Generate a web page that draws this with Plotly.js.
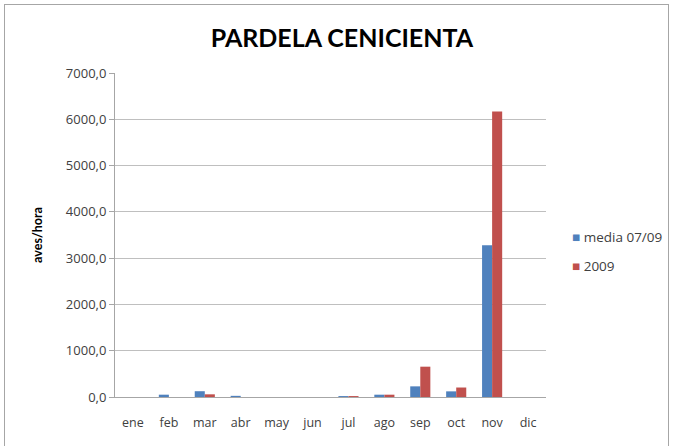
<!DOCTYPE html>
<html>
<head>
<meta charset="utf-8">
<script src="https://cdn.plot.ly/plotly-3.0.1.min.js"></script>
<style>
html,body{margin:0;padding:0;background:#fff;overflow:hidden;}
#frame{position:absolute;left:4px;top:4px;width:665px;height:460px;border:1px solid #a6a6a6;box-sizing:border-box;pointer-events:none;z-index:5;}
#chart{position:absolute;left:0;top:0;width:673px;height:446px;}
</style>
</head>
<body>
<div id="chart"></div>
<div id="frame"></div>
<script>
const months = ["ene","feb","mar","abr","may","jun","jul","ago","sep","oct","nov","dic"];
const seriesNames = ["media 07/09", "2009"];
const media0709 = [0, 50, 125, 25, 0, 0, 20, 50, 230, 122, 3280, 0];
const y2009 = [0, 0, 58, 0, 0, 0, 20, 50, 655, 205, 6170, 0];
const yTicks = [0,1000,2000,3000,4000,5000,6000,7000];
const colors = ["#4f81bd", "#c0504d"];

const font = "'Open Sans', Lato, sans-serif";
const data = [
  {type:"bar", name:seriesNames[0], x:months, y:media0709, marker:{color:colors[0]}},
  {type:"bar", name:seriesNames[1], x:months, y:y2009, marker:{color:colors[1]}}
];
const legendY = [0.494, 0.404];
const annotations = seriesNames.map((n, i) => ({
  text: "<span style='color:" + colors[i] + "'>■</span> " + n,
  xref:"paper", yref:"paper", x:1.055, y:legendY[i], xanchor:"left", yanchor:"middle",
  showarrow:false, font:{family:font, size:13.5, color:"#404040"}
}));
const layout = {
  width:673, height:446,
  margin:{l:115, r:127, t:73, b:49},
  paper_bgcolor:"#fff", plot_bgcolor:"#fff",
  separators:",.",
  barmode:"group", bargap:0.44, bargroupgap:0,
  font:{family:font, color:"#404040", size:12},
  title:{text:"<b>PARDELA CENICIENTA</b>", x:0.508, xref:"container", xanchor:"center", y:0.915, yref:"container", yanchor:"middle", font:{family:"Lato, sans-serif", size:25, color:"#000"}},
  xaxis:{type:"category", categoryarray:months, categoryorder:"array", showgrid:false, showline:true, linecolor:"#a6a6a6", linewidth:1, ticks:"", tickfont:{size:12.5, color:"#404040"}, ticklabelstandoff:14, fixedrange:true},
  yaxis:{range:[0,7000], tickvals:yTicks, tickformat:".1f", showgrid:true, gridcolor:"#bfbfbf", gridwidth:1, zeroline:false, showline:true, linecolor:"#a6a6a6", ticks:"outside", ticklen:5, tickcolor:"#a6a6a6", tickfont:{size:13, color:"#404040"},
    title:{text:"<b>aves/hora</b>", font:{family:"Lato, sans-serif", size:12.5, color:"#000"}, standoff:20}},
  annotations: annotations,
  showlegend:false
};
Plotly.newPlot("chart", data, layout, {displayModeBar:false, staticPlot:true});
</script>
</body>
</html>
